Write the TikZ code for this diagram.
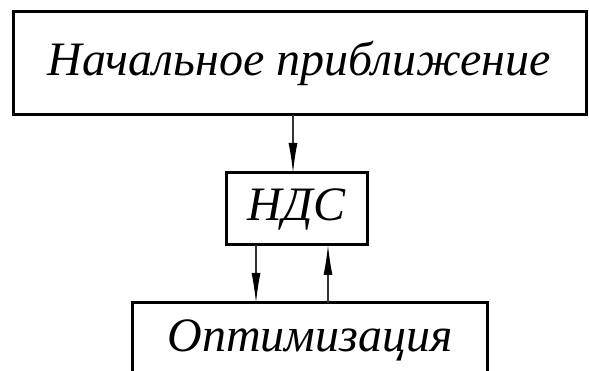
\documentclass[tikz,border=0pt]{standalone}
\usepackage{fontspec}
\setmainfont{Liberation Serif}[Script=Cyrillic,Language=Serbian]
\usetikzlibrary{arrows.meta}
\begin{document}
\begin{tikzpicture}[x=1pt,y=-1pt,
  lbl/.style={font=\fontsize{48}{58}\selectfont\itshape},
  box/.style={draw,line width=3pt,inner sep=0pt,outer sep=0pt,anchor=center,lbl},
  arr/.style={line width=1.2pt,draw=black!80,-{Latex[length=30pt,width=9pt,fill=black,color=black]}}]
\useasboundingbox (0,0) rectangle (589,371);
\clip (0,0) rectangle (589,371);
\node[box,minimum width=573pt,minimum height=103pt] (top) at (299.5,63.5) {Начальное приближение};
\node[box,minimum width=141pt,minimum height=72pt] (nds) at (296.5,209) {НДС};
\node[box,minimum width=355pt,minimum height=130pt] (opt) at (309.5,368) {};
\node[lbl,anchor=base] (optt) at (310,352) {Оптимизация};
\coordinate (a1) at (293,0);
\coordinate (a2) at (256,0);
\coordinate (a3) at (328,0);
\draw[arr] (top.south -| a1) -- (nds.north -| a1);
\draw[arr] (nds.south -| a2) -- (opt.north -| a2);
\draw[arr] (opt.north -| a3) -- (nds.south -| a3);
\end{tikzpicture}
\end{document}
